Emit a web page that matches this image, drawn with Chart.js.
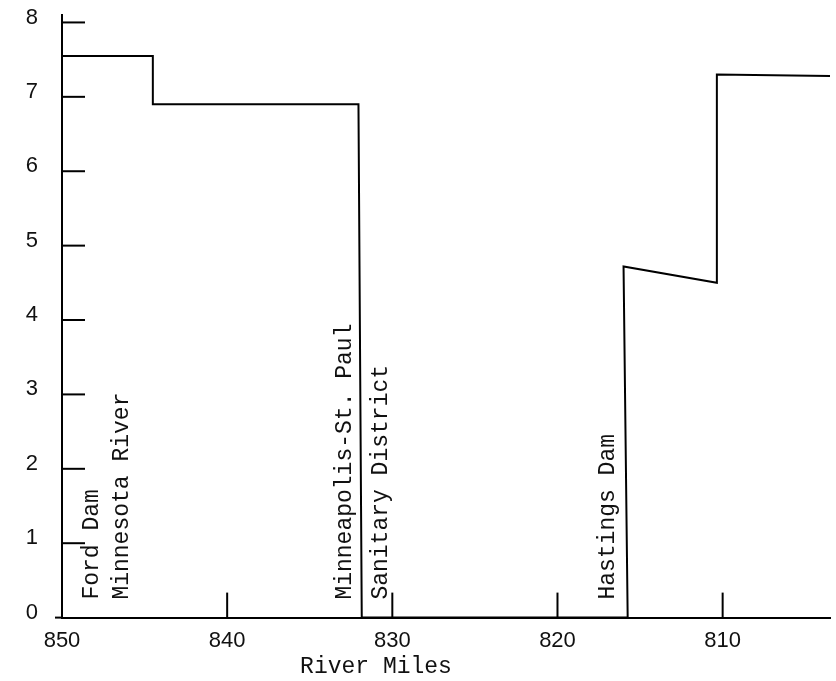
<!DOCTYPE html>
<html><head><meta charset="utf-8">
<script src="https://cdn.jsdelivr.net/npm/chart.js@4.4.0/dist/chart.umd.min.js"></script>
<style>html,body{margin:0;padding:0;background:#fff;}#wrap{width:836px;height:681px;}</style>
</head><body><div id="wrap"><canvas id="c" width="836" height="681"></canvas></div>
<script>
// River miles (x) and plotted values (y)
const riverMiles = [850, 844.5, 844.5, 832.05, 831.85, 815.75, 816.0, 810.35, 810.35, 803.5];
const doValues   = [7.55, 7.55, 6.9, 6.9, 0, 0, 4.72, 4.5, 7.3, 7.28];
const xTickValues = [850, 840, 830, 820, 810];
const yTickValues = [0, 1, 2, 3, 4, 5, 6, 7, 8];
const siteLabels = ['Ford Dam', 'Minnesota River', 'Minneapolis-St. Paul', 'Sanitary District', 'Hastings Dam'];
const siteMiles  = [847.8, 846.0, 832.5, 830.35, 816.6];
const xTitle = 'River Miles';

const points = riverMiles.map((m, i) => ({x: m, y: doValues[i]}));
const monoFont = '"Liberation Mono", "DejaVu Sans Mono", monospace';
const sansFont = '"Liberation Sans", Arial, sans-serif';

const decor = {
  id: 'decor',
  afterDraw(chart) {
    const ctx = chart.ctx, xs = chart.scales.x, ys = chart.scales.y;
    const area = chart.chartArea;
    ctx.save();
    ctx.strokeStyle = '#000';
    ctx.lineWidth = 2;
    // inward tick marks
    xTickValues.forEach(v => {
      if (v === 850) return;
      const px = xs.getPixelForValue(v);
      ctx.beginPath(); ctx.moveTo(px, area.bottom); ctx.lineTo(px, area.bottom - 25); ctx.stroke();
    });
    yTickValues.forEach(v => {
      if (v === 0) return;
      const py = ys.getPixelForValue(v);
      ctx.beginPath(); ctx.moveTo(area.left, py); ctx.lineTo(area.left + 23, py); ctx.stroke();
    });
    // short extension of the x axis to the left of the y axis
    ctx.beginPath(); ctx.moveTo(area.left - 7, area.bottom); ctx.lineTo(area.left, area.bottom); ctx.stroke();
    // vertical site labels
    ctx.fillStyle = '#111';
    ctx.font = '23px ' + monoFont;
    ctx.textAlign = 'left';
    ctx.textBaseline = 'alphabetic';
    const y0 = ys.getPixelForValue(0) - 18;
    siteLabels.forEach((t, i) => {
      const px = xs.getPixelForValue(siteMiles[i]);
      ctx.save();
      ctx.translate(px, y0);
      ctx.rotate(-Math.PI / 2);
      ctx.fillText(t, 0, 0);
      ctx.restore();
    });
    // axis title
    ctx.textAlign = 'center';
    ctx.textBaseline = 'middle';
    ctx.fillText(xTitle, 376, 667);
    ctx.restore();
  }
};

new Chart(document.getElementById('c'), {
  type: 'line',
  data: { datasets: [{ data: points, borderColor: '#000', borderWidth: 2, pointRadius: 0, tension: 0, fill: false }] },
  options: {
    responsive: false,
    animation: false,
    devicePixelRatio: 1,
    layout: { padding: { left: 26, right: 6, top: 15, bottom: 17 } },
    plugins: { legend: { display: false }, tooltip: { enabled: false } },
    scales: {
      x: {
        type: 'linear', reverse: true, min: 803.5, max: 850,
        afterBuildTicks: s => { s.ticks = xTickValues.map(v => ({value: v})); },
        grid: { display: false, drawTicks: false },
        border: { display: true, color: '#000', width: 2 },
        ticks: { color: '#111', font: { family: sansFont, size: 22 }, padding: 10, maxRotation: 0, autoSkip: false }
      },
      y: {
        type: 'linear', min: 0, max: 8.1,
        afterBuildTicks: s => { s.ticks = yTickValues.map(v => ({value: v})); },
        afterFit: s => { s.width = 36; s.paddingTop = 0; s.paddingBottom = 0; },
        grid: { display: false, drawTicks: false },
        border: { display: true, color: '#000', width: 2 },
        ticks: { color: '#111', font: { family: sansFont, size: 22 }, padding: 24, labelOffset: -5, autoSkip: false }
      }
    }
  },
  plugins: [decor]
});
</script></body></html>
